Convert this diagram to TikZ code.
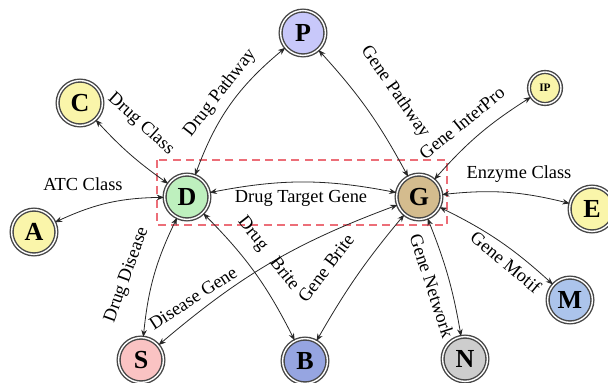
\documentclass[tikz,border=0pt]{standalone}
\usepackage{fontspec}
\setmainfont{Liberation Serif}
\usetikzlibrary{arrows.meta}

\definecolor{cP}{RGB}{200,200,250}
\definecolor{cY}{RGB}{250,245,170}
\definecolor{cD}{RGB}{190,240,190}
\definecolor{cG}{RGB}{212,188,142}
\definecolor{cS}{RGB}{250,195,195}
\definecolor{cB}{RGB}{150,165,225}
\definecolor{cN}{RGB}{205,205,205}
\definecolor{cM}{RGB}{172,196,235}
\definecolor{boxred}{RGB}{236,110,120}

\tikzset{
  ent/.style={circle, draw=black!72, line width=0.7pt, double=white,
    double distance=0.7pt, minimum size=22.4pt, inner sep=0pt,
    font=\fontsize{13}{13}\selectfont\bfseries},
  smallent/.style={ent, minimum size=16pt, font=\fontsize{5.7}{6}\selectfont\bfseries},
  rel/.style={draw=black!85, line width=0.4pt,
    {Stealth[length=3.6pt,width=2.8pt]}-{Stealth[length=3.6pt,width=2.8pt]}},
  lbl/.style={font=\fontsize{9.2}{10}\selectfont, inner sep=0pt},
  focus/.style={draw=boxred, line width=0.7pt, dash pattern=on 4pt off 2.6pt}
}

\begin{document}
\begin{tikzpicture}[x=0.5pt, y=-0.5pt]
  \useasboundingbox (0,0) rectangle (608,383);

  % entity nodes
  \node[ent, fill=cP] (P) at (303,33) {P};
  \node[ent, fill=cY] (C) at (80,103) {C};
  \node[ent, fill=cD] (D) at (187,197) {D};
  \node[ent, fill=cG] (G) at (419,197) {G};
  \node[ent, fill=cY] (A) at (34,232) {A};
  \node[ent, fill=cY] (E) at (592,209) {E};
  \node[smallent, fill=cY] (IP) at (545,88) {IP};
  \node[ent, fill=cS] (S) at (141,360) {S};
  \node[ent, fill=cB] (B) at (305,361) {B};
  \node[ent, fill=cN] (N) at (465,359) {N};
  \node[ent, fill=cM] (M) at (570,300) {M};

  % drug--gene focus frame
  \draw[focus] (157,160) rectangle (447,225);

  % relations
  \draw[rel] (D) to[bend left=6] (C);
  \draw[rel] (D) to[bend left=15] (P);
  \draw[rel] (G) to[bend right=7] (P);
  \draw[rel] (G) to[bend left=8] (IP);
  \draw[rel] (D) to[bend right=12] (A);
  \draw[rel] (D) to[bend left=11] (G);
  \draw[rel] (G) to[bend left=10] (E);
  \draw[rel] (D) to[bend right=10] (S);
  \draw[rel] (G) to[bend right=10] (S);
  \draw[rel] (D) to[bend left=9] (B);
  \draw[rel] (G) to[bend right=5] (B);
  \draw[rel] (G) to[bend left=6] (N);
  \draw[rel] (G) to[bend left=8] (M);

  % relation labels
  \node[lbl, rotate=-42] (lDC) at (141,124) {Drug Class};
  \node[lbl, rotate=52]  (lDP) at (220,93)  {Drug Pathway};
  \node[lbl, rotate=-55] (lGP) at (395,92)  {Gene Pathway};
  \node[lbl, rotate=39]  (lGI) at (462,123) {Gene InterPro};
  \node[lbl]             (lDA) at (83,184)  {ATC Class};
  \node[lbl]             (lDG) at (301,198) {Drug Target Gene};
  \node[lbl]             (lGE) at (519,174) {Enzyme Class};
  \node[lbl, rotate=70]  (lDS) at (127,275) {Drug Disease};
  \node[lbl, rotate=33]  (lGS) at (193,298) {Disease Gene};
  \node[lbl, rotate=-52] (lDB) at (268,254) {Drug\hspace{0.75em}Brite};
  \node[lbl, rotate=53]  (lGB) at (326,268) {Gene Brite};
  \node[lbl, rotate=-72] (lGN) at (432,286) {Gene Network};
  \node[lbl, rotate=-40] (lGM) at (506,262) {Gene Motif};
\end{tikzpicture}
\end{document}
